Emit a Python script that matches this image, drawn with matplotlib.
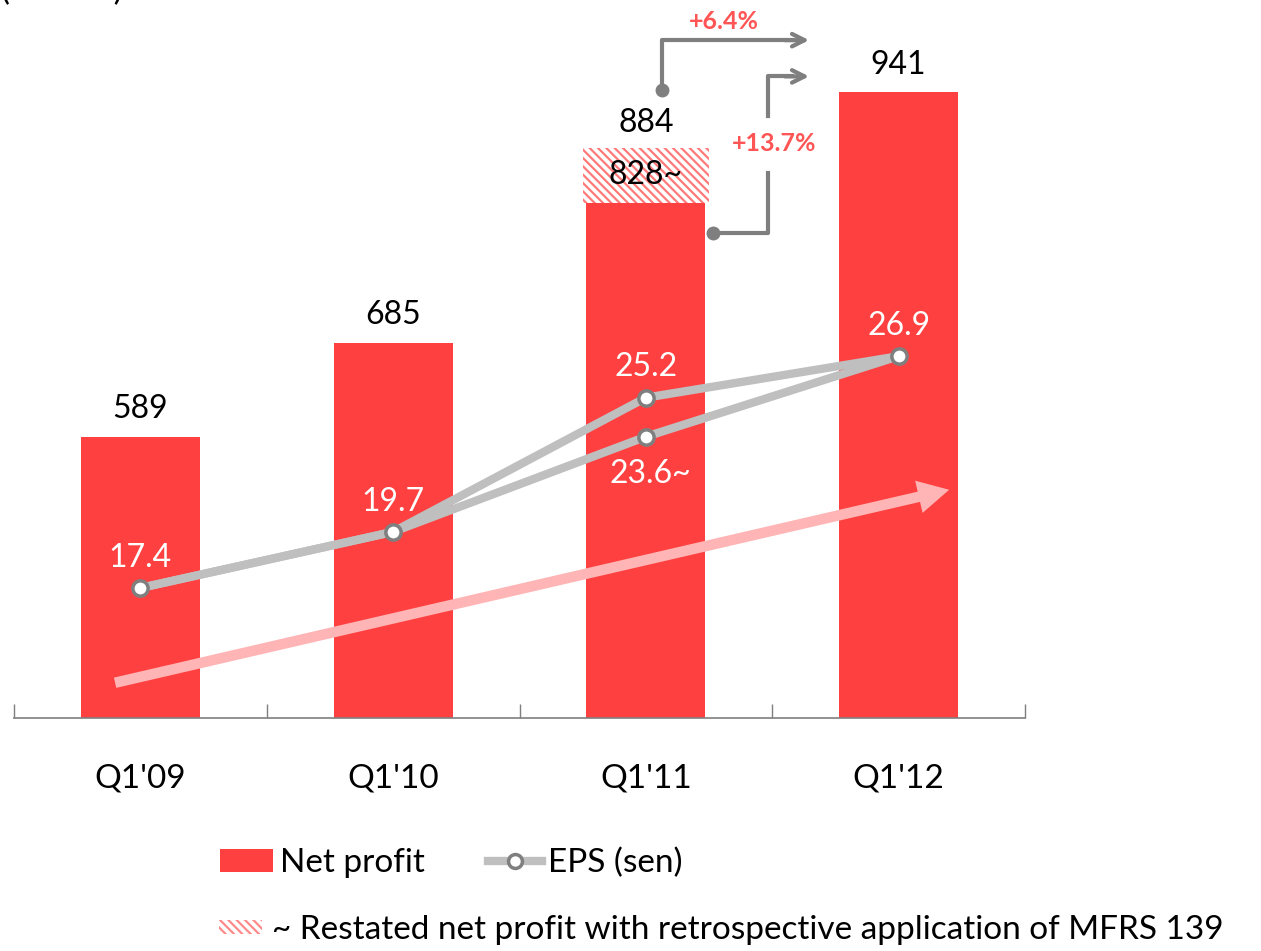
import matplotlib
matplotlib.use('Agg')
import matplotlib.pyplot as plt
from matplotlib.patches import Patch
from matplotlib.lines import Line2D

plt.rcParams['font.family'] = ['Lato', 'DejaVu Sans']
plt.rcParams['hatch.linewidth'] = 1.6

# data
quarters = ["Q1'09", "Q1'10", "Q1'11", "Q1'12"]
net_profit = [589, 685, 828, 941]
q111_original = 884
eps = [17.4, 19.7, 25.2, 26.9]
eps_restated = [17.4, 19.7, 23.6, 26.9]
growth_labels = ['+6.4%', '+13.7%']

RED = '#FF4040'
GRAY_LINE = '#BFBFBF'
GRAY_DARK = '#7F7F7F'
PINK = '#FFB5B5'
PCT_RED = '#FF5555'
FS = 23

fig = plt.figure(figsize=(12.61, 9.51), dpi=100)
ax = fig.add_axes([14 / 1261, 0.245, (1025 - 14) / 1261, 0.755])
ax2 = ax.twinx()

x = list(range(len(quarters)))

# bars
ax.bar(x, net_profit, width=0.47, color=RED, zorder=2)
ax.bar(2, q111_original - net_profit[2], bottom=net_profit[2], width=0.5,
       facecolor='white', edgecolor='#FF7A7A', hatch='\\\\\\\\', linewidth=0, zorder=2)

ax.set_xlim(-0.5, 3.5)
ax.set_ylim(302, 1035)
ax2.set_ylim(12.07, 41.5)

# bar labels
for i, v in enumerate(net_profit):
    lab = f'{v}~' if i == 2 else str(v)
    ax.annotate(lab, (i, v), xytext=(0, 9), textcoords='offset points',
                ha='center', va='bottom', fontsize=FS, color='black', zorder=5)
ax.annotate(str(q111_original), (2, q111_original), xytext=(0, 7), textcoords='offset points',
            ha='center', va='bottom', fontsize=FS, color='black')

# pink trend arrow
ax.annotate('', xy=(3.2, 535), xytext=(-0.1, 338),
            arrowprops=dict(arrowstyle='simple,tail_width=0.27,head_width=0.85,head_length=0.8',
                            mutation_scale=28, color=PINK, lw=0, shrinkA=0, shrinkB=0),
            zorder=3)

# EPS lines
ax2.plot(x, eps_restated, color=GRAY_LINE, lw=6, zorder=4, solid_capstyle='round')
ax2.plot(x, eps, color=GRAY_LINE, lw=6, zorder=4, solid_capstyle='round')
ax2.plot(x, eps, 'o', ms=11, mfc='white', mec=GRAY_DARK, mew=2.5, zorder=6)
ax2.plot(2, eps_restated[2], 'o', ms=11, mfc='white', mec=GRAY_DARK, mew=2.5, zorder=6)

for i, v in enumerate(eps):
    ax2.annotate(f'{v}', (i, v), xytext=(0, 11), textcoords='offset points',
                 ha='center', va='bottom', fontsize=FS, color='white', zorder=7)
ax2.annotate(f'{eps_restated[2]}~', (2, eps_restated[2]), xytext=(3, -16), textcoords='offset points',
             ha='center', va='top', fontsize=FS, color='white', zorder=7)

# growth brackets
ax.plot([2.065, 2.065, 2.58], [943, 994, 994], color=GRAY_DARK, lw=3, zorder=5)
ax.plot([2.065], [943], 'o', color=GRAY_DARK, ms=9, zorder=5)
ax.annotate('', xy=(2.646, 994), xytext=(2.55, 994),
            arrowprops=dict(arrowstyle='->,head_length=0.9,head_width=0.45', color=GRAY_DARK,
                            lw=3, shrinkA=0, shrinkB=0))
ax.text(2.31, 1013, growth_labels[0], ha='center', va='center', fontsize=18,
        fontweight='bold', color=PCT_RED)

ax.plot([2.267, 2.484, 2.484], [797, 797, 858], color=GRAY_DARK, lw=3, zorder=5)
ax.plot([2.484, 2.484, 2.58], [917, 957, 957], color=GRAY_DARK, lw=3, zorder=5)
ax.plot([2.267], [797], 'o', color=GRAY_DARK, ms=9, zorder=5)
ax.annotate('', xy=(2.646, 957), xytext=(2.55, 957),
            arrowprops=dict(arrowstyle='->,head_length=0.9,head_width=0.45', color=GRAY_DARK,
                            lw=3, shrinkA=0, shrinkB=0))
ax.text(2.508, 889, growth_labels[1], ha='center', va='center', fontsize=18,
        fontweight='bold', color=PCT_RED)

# axes styling
for a in (ax, ax2):
    for s in ('top', 'left', 'right'):
        a.spines[s].set_visible(False)
    a.set_yticks([])
ax2.spines['bottom'].set_visible(False)
ax.spines['bottom'].set_color(GRAY_DARK)
ax.spines['bottom'].set_linewidth(1.2)
ax.set_xticks([-0.5, 0.5, 1.5, 2.5, 3.5])
ax.set_xticklabels([])
ax.tick_params(axis='x', which='major', direction='in', length=10, color=GRAY_DARK, width=1)
ax.set_xticks(x, minor=True)
ax.set_xticklabels(quarters, minor=True, fontsize=24)
ax.tick_params(axis='x', which='minor', length=0, pad=33)

# unit label, cut at the top edge as in the source
fig.text(0.001, 1.0, '(RM mil)', fontsize=24, va='baseline', ha='left')

# legends
h1 = Patch(facecolor=RED, edgecolor='none')
h2 = Line2D([], [], color=GRAY_LINE, lw=6, marker='o', ms=10, mfc='white', mec=GRAY_DARK, mew=2.5)
fig.legend([h1, h2], ['Net profit', 'EPS (sen)'], loc='center left',
           bbox_to_anchor=(220 / 1261, 1 - 863 / 951), ncol=2, frameon=False,
           fontsize=24, handlelength=1.6, handleheight=0.7, handletextpad=0.2,
           columnspacing=1.9, borderpad=0, borderaxespad=0)
h3 = Patch(facecolor='white', edgecolor='#FF8A8A', hatch='\\\\\\\\', linewidth=0)
fig.legend([h3], ['~ Restated net profit with retrospective application of MFRS 139'],
           loc='center left', bbox_to_anchor=(219 / 1261, 1 - 930 / 951), frameon=False,
           fontsize=24, handlelength=1.3, handleheight=0.3, handletextpad=0.3,
           borderpad=0, borderaxespad=0)

fig.savefig('out.png', dpi=100)
